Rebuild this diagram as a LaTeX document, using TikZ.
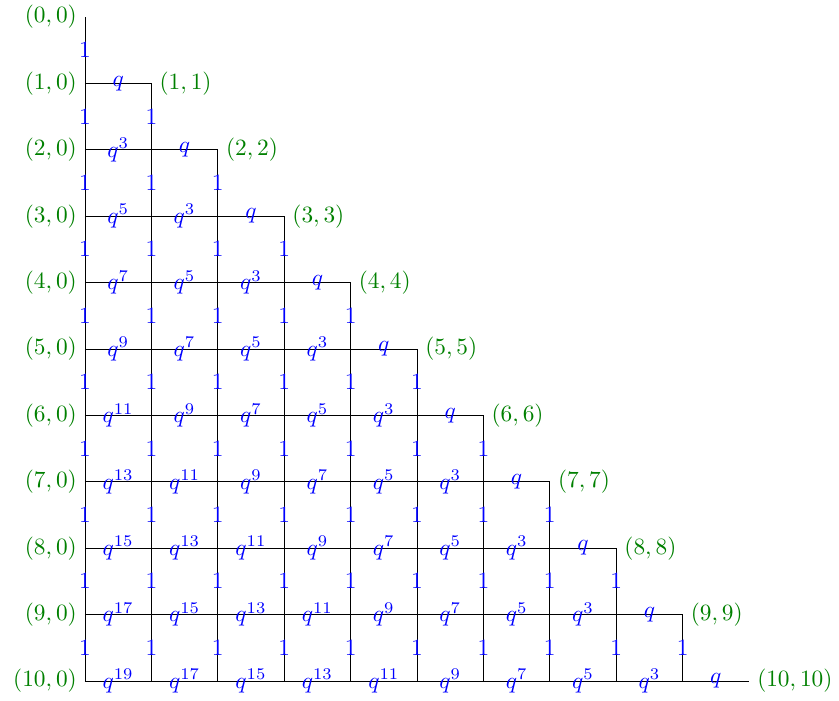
\documentclass[tikz,border=0pt]{standalone}
\begin{document}
\begin{tikzpicture}[
  edge/.style={black,line width=0.4pt},
  wlab/.style={blue,midway},
  vlab/.style={green!50!black}]
\useasboundingbox (-1.28,0.256) rectangle (11.355,-10.286);
\foreach \i in {0,...,10}{
  \foreach \j in {0,...,\i}{
    \coordinate (v-\i-\j) at (\j,-\i);
  }
}
% vertical edges
\foreach \i in {0,...,9}{
  \pgfmathtruncatemacro\ii{\i+1}
  \foreach \j in {0,...,\i}{
    \draw[edge] (v-\i-\j) -- (v-\ii-\j) node[wlab] (ve-\i-\j) {$1$};
  }
}
% horizontal edges
\foreach \i in {1,...,10}{
  \pgfmathtruncatemacro\jm{\i-1}
  \foreach \j in {0,...,\jm}{
    \pgfmathtruncatemacro\e{2*(\i-\j)-1}
    \pgfmathtruncatemacro\jn{\j+1}
    \draw[edge] (v-\i-\j) -- (v-\i-\jn) node[wlab] (he-\i-\j) {\ifnum\e=1 $q$\else $q^{\e}$\fi};
  }
}
% vertex labels
\foreach \i in {0,...,10}{
  \node[vlab,left] (l-\i) at (v-\i-0) {$(\i,0)$};
}
\foreach \i in {1,...,10}{
  \node[vlab,right] (r-\i) at (v-\i-\i) {$(\i,\i)$};
}
\end{tikzpicture}
\end{document}
